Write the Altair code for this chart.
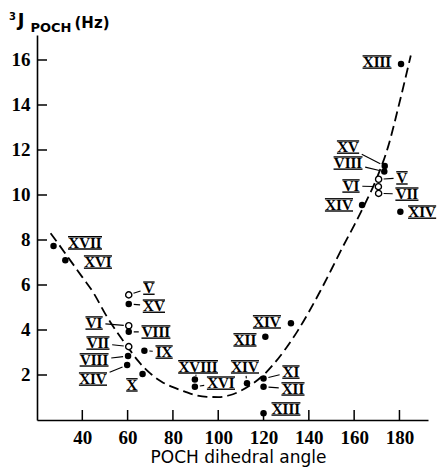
import altair as alt
import pandas as pd

# ---- data ----
pt_x = [180.7, 27.3, 32.5, 60.5, 60.5, 60.5, 60.5, 60.5, 60.2, 59.8, 67.4, 66.6,
        89.7, 89.7, 112.7, 120.0, 120.0, 120.0, 120.8, 132.1,
        173.5, 173.3, 170.8, 170.7, 170.8, 163.5, 180.4]
pt_y = [15.82, 7.73, 7.10, 5.56, 5.16, 4.19, 3.92, 3.26, 2.84, 2.44, 3.08, 2.04,
        1.80, 1.48, 1.63, 1.84, 1.48, 0.30, 3.70, 4.30,
        11.29, 11.04, 10.70, 10.37, 10.07, 9.56, 9.26]
pt_open = [False, False, False, True, False, True, False, True, False, False, False, False,
           False, False, False, False, False, False, False, False,
           False, False, True, True, True, False, False]
pt_name = ["XIII", "XVII", "XVI", "V", "XV", "VI", "VIII", "VII", "VIII", "XIV", "IX", "X",
           "XVIII", "XVI", "XIV", "XI", "XII", "XIII", "XII", "XIV",
           "XV", "VIII", "V", "VI", "VII", "XIV", "XIV"]
lab_x = [170.1, 41.2, 46.9, 69.4, 71.6, 45.2, 72.5, 46.9, 45.2, 44.7, 76.1, 61.9,
         91.1, 101.2, 111.8, 132.1, 133.0, 129.9, 111.8, 121.5,
         157.3, 157.3, 181.1, 158.6, 183.3, 153.3, 190.0]
lab_y = [15.91, 7.87, 7.02, 5.86, 5.06, 4.31, 3.91, 3.42, 2.67, 1.82, 3.02, 1.56,
         2.36, 1.64, 2.36, 2.13, 1.38, 0.49, 3.56, 4.36,
         12.13, 11.42, 10.76, 10.40, 10.04, 9.56, 9.24]
has_leader = [False, False, False, True, True, True, True, True, True, True, True, False,
              True, True, True, True, True, False, False, False,
              True, True, True, True, True, False, False]

curve_x = [26, 30, 35, 40, 45, 50, 55, 60, 65, 70, 75, 80, 85, 90, 95, 100, 105,
           110, 115, 120, 125, 130, 135, 140, 145, 150, 155, 160, 165, 170, 175, 180, 185]
curve_y = [8.30, 7.75, 7.05, 6.35, 5.64, 4.74, 3.95, 3.25, 2.58, 2.07, 1.70, 1.46,
           1.27, 1.10, 1.03, 1.02, 1.10, 1.30, 1.60, 2.00, 2.55, 3.20, 3.95, 4.80,
           5.72, 6.70, 7.70, 8.65, 9.65, 10.75, 12.15, 14.10, 16.20]

x_ticks = [40, 60, 80, 100, 120, 140, 160, 180]
y_ticks = [2, 4, 6, 8, 10, 12, 14, 16]

# ---- geometry of the plot area ----
X0, X1, W = 20.0, 192.6, 391
Y0, Y1, H = 0.0, 17.111, 385


def to_px(x, y):
    return (x - X0) / (X1 - X0) * W, H - (y - Y0) / (Y1 - Y0) * H


def to_data(px, py):
    return X0 + px / W * (X1 - X0), Y0 + (H - py) / H * (Y1 - Y0)


FS = 15
CW = {"X": 0.722 * FS, "V": 0.722 * FS, "I": 0.389 * FS}
BAR = 6.1

leaders = []
bars = []
for x, y, lx, ly, nm, lead in zip(pt_x, pt_y, lab_x, lab_y, pt_name, has_leader):
    lpx, lpy = to_px(lx, ly)
    tw = sum(CW.get(c, 8) for c in nm)
    for off in (-BAR, BAR):
        a = to_data(lpx - tw / 2 - 0.3, lpy + off)
        b = to_data(lpx + tw / 2 + 0.3, lpy + off)
        bars.append({"x": a[0], "y": a[1], "x2": b[0], "y2": b[1]})
    if not lead:
        continue
    ppx, ppy = to_px(x, y)
    dx, dy = lpx - ppx, lpy - ppy
    d = (dx * dx + dy * dy) ** 0.5
    ux, uy = dx / d, dy / d
    w = tw / 2 + 2
    h = 8.0
    tx = w / abs(dx) if abs(dx) > 1e-6 else 1e9
    ty = h / abs(dy) if abs(dy) > 1e-6 else 1e9
    t = min(tx, ty)
    ex, ey = lpx - dx * t - ux * 1, lpy - dy * t - uy * 1
    sx, sy = ppx + ux * 5, ppy + uy * 5
    a = to_data(sx, sy)
    b = to_data(ex, ey)
    leaders.append({"x": a[0], "y": a[1], "x2": b[0], "y2": b[1]})

pts = pd.DataFrame({"x": pt_x, "y": pt_y, "open": pt_open})
labs = pd.DataFrame({"x": lab_x, "y": lab_y, "t": pt_name})
curve = pd.DataFrame({"x": curve_x, "y": curve_y})
lead_df = pd.DataFrame(leaders)
bar_df = pd.DataFrame(bars)
xt = pd.DataFrame({"v": x_ticks})
yt = pd.DataFrame({"v": y_ticks})

xs = alt.Scale(domain=[X0, X1], nice=False, zero=False)
ys = alt.Scale(domain=[Y0, Y1], nice=False, zero=False)

num_font = "Liberation Sans Narrow"

x_axis = alt.Axis(values=x_ticks, ticks=False, grid=False, domainColor="black",
                  domainWidth=1.6, labelFont=num_font, labelFontSize=19,
                  labelFontWeight="bold", labelColor="black", labelPadding=8,
                  title="POCH dihedral angle", titleFont="DejaVu Sans",
                  titleFontSize=17, titleFontWeight="normal", titleColor="black",
                  titlePadding=2, titleX=201, titleAnchor="middle", titleAlign="center")
y_axis = alt.Axis(values=y_ticks, ticks=False, grid=False, domainColor="black",
                  domainWidth=1.6, labelFont=num_font, labelFontSize=19,
                  labelFontWeight="bold", labelColor="black", labelPadding=7,
                  title="", titleFontSize=1)

base_line = alt.Chart(curve).mark_line(
    color="black", strokeWidth=1.8, strokeDash=[10, 5], interpolate="monotone"
).encode(x=alt.X("x:Q", scale=xs, axis=x_axis), y=alt.Y("y:Q", scale=ys, axis=y_axis))

xtick = alt.Chart(xt).mark_rule(color="black", strokeWidth=1.5).encode(
    x=alt.X("v:Q", scale=xs), y=alt.value(H), y2=alt.value(H - 10))
ytick = alt.Chart(yt).mark_rule(color="black", strokeWidth=1.5).encode(
    y=alt.Y("v:Q", scale=ys), x=alt.value(0), x2=alt.value(10))

lead = alt.Chart(lead_df).mark_rule(color="black", strokeWidth=1.1).encode(
    x=alt.X("x:Q", scale=xs), y=alt.Y("y:Q", scale=ys), x2="x2:Q", y2="y2:Q")

bar_rules = alt.Chart(bar_df).mark_rule(color="black", strokeWidth=1.4).encode(
    x=alt.X("x:Q", scale=xs), y=alt.Y("y:Q", scale=ys), x2="x2:Q", y2="y2:Q")

filled = alt.Chart(pts).transform_filter("!datum.open").mark_point(
    shape="circle", filled=True, color="black", size=42, opacity=1
).encode(x=alt.X("x:Q", scale=xs), y=alt.Y("y:Q", scale=ys))
opened = alt.Chart(pts).transform_filter("datum.open").mark_point(
    shape="circle", filled=True, fill="white", stroke="black", strokeWidth=1.4,
    size=38, opacity=1
).encode(x=alt.X("x:Q", scale=xs), y=alt.Y("y:Q", scale=ys))

texts = alt.Chart(labs).mark_text(
    font="Liberation Serif", fontSize=FS, fontWeight="bold", color="black",
    align="center", baseline="alphabetic", dy=4.9
).encode(x=alt.X("x:Q", scale=xs), y=alt.Y("y:Q", scale=ys), text="t:N")

t3 = alt.Chart(pd.DataFrame({"t": ["3"]})).mark_text(
    font="DejaVu Sans", fontSize=10, fontWeight="bold", color="black",
    align="center", baseline="middle").encode(x=alt.value(-24.5), y=alt.value(-18.5), text="t:N")
tJ = alt.Chart(pd.DataFrame({"t": ["J"]})).mark_text(
    font="DejaVu Sans", fontSize=18, fontWeight="bold", color="black",
    align="center", baseline="middle").encode(x=alt.value(-16), y=alt.value(-14), text="t:N")
tP = alt.Chart(pd.DataFrame({"t": ["POCH"]})).mark_text(
    font="DejaVu Sans", fontSize=13, fontWeight="bold", color="black",
    align="center", baseline="middle").encode(x=alt.value(14), y=alt.value(-7), text="t:N")
tH = alt.Chart(pd.DataFrame({"t": ["(Hz)"]})).mark_text(
    font="DejaVu Sans", fontSize=15, fontWeight="bold", color="black",
    align="center", baseline="middle").encode(x=alt.value(55), y=alt.value(-12.5), text="t:N")

chart = alt.layer(
    base_line, xtick, ytick, lead, bar_rules, filled, opened, texts, t3, tJ, tP, tH
).properties(
    width=W, height=H,
    autosize=alt.AutoSizeParams(type="none"),
    padding={"left": 37, "top": 35, "right": 9, "bottom": 47},
    background="white",
).configure_view(stroke="transparent")

chart.save("out.html", embed_options={"renderer": "svg", "actions": False})
